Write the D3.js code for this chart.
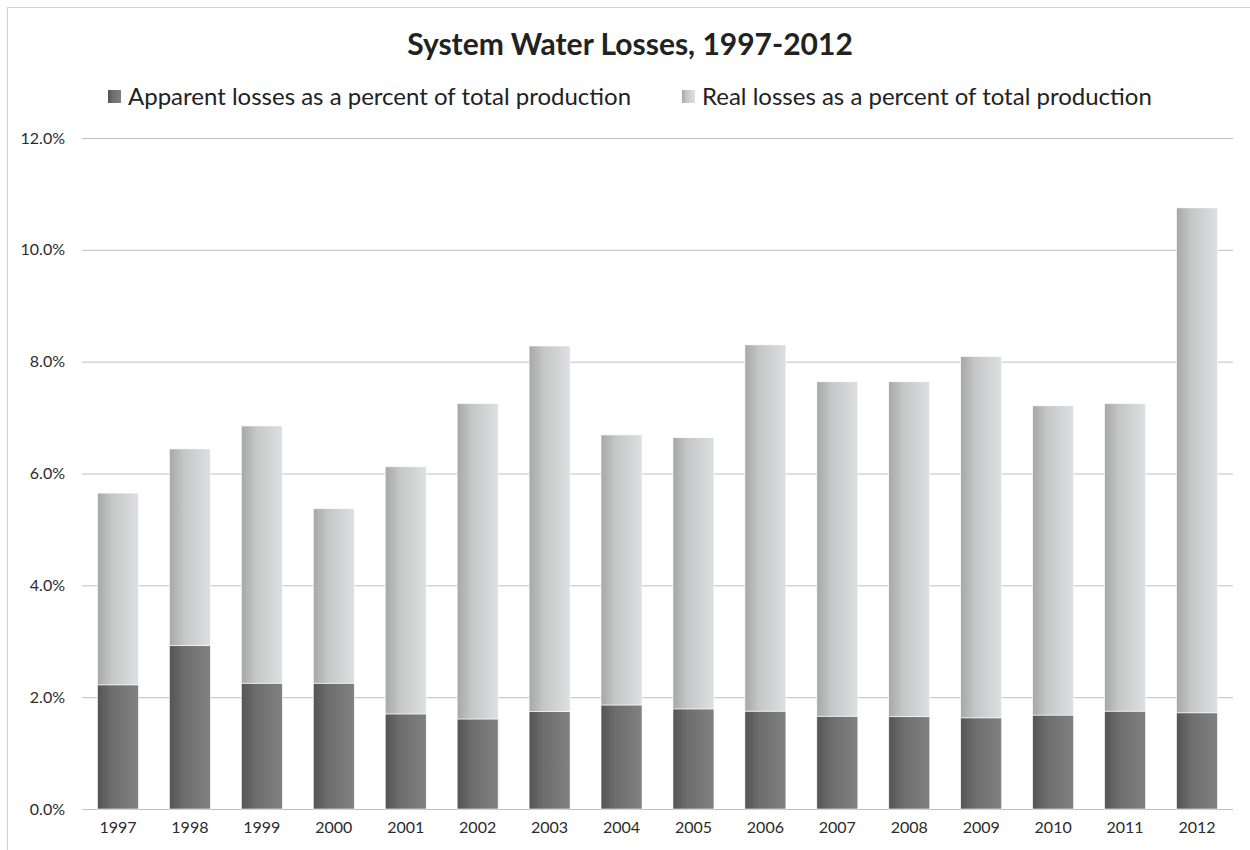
<!DOCTYPE html>
<html>
<head>
<meta charset="utf-8">
<script src="https://cdn.jsdelivr.net/npm/d3@7"></script>
<style>
  body { margin: 0; background: #fff; }
  text { font-family: Lato, "Open Sans", sans-serif; }
</style>
</head>
<body>
<svg id="chart"></svg>
<script>
// years along the x axis
const years = ['1997', '1998', '1999', '2000', '2001', '2002', '2003', '2004',
    '2005', '2006', '2007', '2008', '2009', '2010', '2011', '2012'];
// apparent losses, % of total production
const apparent = [2.22, 2.92, 2.25, 2.25, 1.70, 1.61, 1.74, 1.86,
    1.79, 1.75, 1.66, 1.65, 1.63, 1.68, 1.75, 1.72];
// real losses, % of total production
const real = [3.43, 3.52, 4.60, 3.12, 4.42, 5.64, 6.54, 4.83,
    4.85, 6.55, 5.98, 5.99, 6.46, 5.53, 5.50, 9.03];
const seriesNames = ['Apparent losses as a percent of total production',
    'Real losses as a percent of total production'];
const yTicks = [0, 2, 4, 6, 8, 10, 12];

const config = {
    width: 1250,
    height: 850,
    margin: { top: 138, right: 17, bottom: 41, left: 82 },
    gridColour: '#bfbfbf',
    textColour: '#2b2b2b'
};

const svg = d3.select('#chart')
    .attr('width', config.width)
    .attr('height', config.height);

// gradients that mimic the Excel shaded bars
const defs = svg.append('defs');
const gradients = [
    { id: 'g-apparent', from: '#545454', to: '#818181' },
    { id: 'g-real', from: '#a7a7a7', to: '#dedfe0' }
];
gradients.forEach(g => {
    const lg = defs.append('linearGradient')
        .attr('id', g.id)
        .attr('x1', '0%').attr('x2', '100%')
        .attr('y1', '0%').attr('y2', '0%');
    lg.append('stop').attr('offset', '0%').attr('stop-color', g.from);
    lg.append('stop').attr('offset', '35%').attr('stop-color', d3.interpolateRgb(g.from, g.to)(0.55));
    lg.append('stop').attr('offset', '100%').attr('stop-color', g.to);
});

// chart frame (left and top edges visible)
svg.append('rect')
    .attr('x', 7.5).attr('y', 7.5)
    .attr('width', 1260).attr('height', 900)
    .attr('fill', 'none')
    .attr('stroke', '#d0d0d0');

const plotW = config.width - config.margin.left - config.margin.right;
const plotH = config.height - config.margin.top - config.margin.bottom;

const chartArea = svg.append('g')
    .attr('transform', `translate(${config.margin.left},${config.margin.top})`);

const xScale = d3.scaleBand()
    .domain(years)
    .range([0, plotW])
    .paddingInner(0.43)
    .paddingOuter(0.215);

const yScale = d3.scaleLinear()
    .domain([0, 12])
    .range([plotH, 0]);

// grid lines
const gridAxis = d3.axisLeft(yScale)
    .tickValues(yTicks)
    .tickSize(-plotW)
    .tickFormat('');
const gridG = chartArea.append('g').call(gridAxis);
gridG.select('.domain').remove();
gridG.selectAll('line').attr('stroke', config.gridColour);

// y axis labels
const yAxis = d3.axisLeft(yScale)
    .tickValues(yTicks)
    .tickSize(0)
    .tickPadding(17)
    .tickFormat(d => d.toFixed(1) + '%');
const yAxisG = chartArea.append('g').call(yAxis);
yAxisG.select('.domain').remove();
yAxisG.selectAll('text')
    .attr('font-size', '16px')
    .attr('fill', config.textColour)
    .style('font-family', 'Lato, sans-serif');

// x axis labels
const xAxis = d3.axisBottom(xScale).tickSize(0).tickPadding(13);
const xAxisG = chartArea.append('g')
    .attr('transform', `translate(0,${plotH})`)
    .call(xAxis);
xAxisG.select('.domain').remove();
xAxisG.selectAll('text')
    .attr('font-size', '16px')
    .attr('fill', config.textColour)
    .style('font-family', 'Lato, sans-serif');

// stacked bars
const rows = years.map((y, i) => ({ year: y, apparent: apparent[i], real: real[i] }));
const stack = d3.stack().keys(['apparent', 'real'])(rows);
const fills = { apparent: 'url(#g-apparent)', real: 'url(#g-real)' };

chartArea.selectAll('.layer')
    .data(stack)
    .join('g')
    .attr('class', 'layer')
    .attr('fill', d => fills[d.key])
    .selectAll('rect')
    .data(d => d)
    .join('rect')
    .attr('x', d => xScale(d.data.year))
    .attr('width', xScale.bandwidth())
    .attr('y', d => yScale(d[1]))
    .attr('height', d => yScale(d[0]) - yScale(d[1]))
    .attr('stroke', '#fff')
    .attr('stroke-width', 0.6);

// title
svg.append('text')
    .attr('x', 630)
    .attr('y', 55)
    .attr('text-anchor', 'middle')
    .attr('font-size', '30px')
    .attr('font-weight', 'bold')
    .attr('fill', '#222')
    .text('System Water Losses, 1997-2012');

// legend
const legendItems = [
    { name: seriesNames[0], fill: fills.apparent, x: 108 },
    { name: seriesNames[1], fill: fills.real, x: 682 }
];
const legend = svg.selectAll('.legend-item')
    .data(legendItems)
    .join('g')
    .attr('class', 'legend-item')
    .attr('transform', d => `translate(${d.x},90)`);
legend.append('rect')
    .attr('width', 13)
    .attr('height', 13)
    .attr('fill', d => d.fill);
legend.append('text')
    .attr('x', 20)
    .attr('y', 15)
    .attr('font-size', '24px')
    .attr('fill', '#222')
    .text(d => d.name);
</script>
</body>
</html>
